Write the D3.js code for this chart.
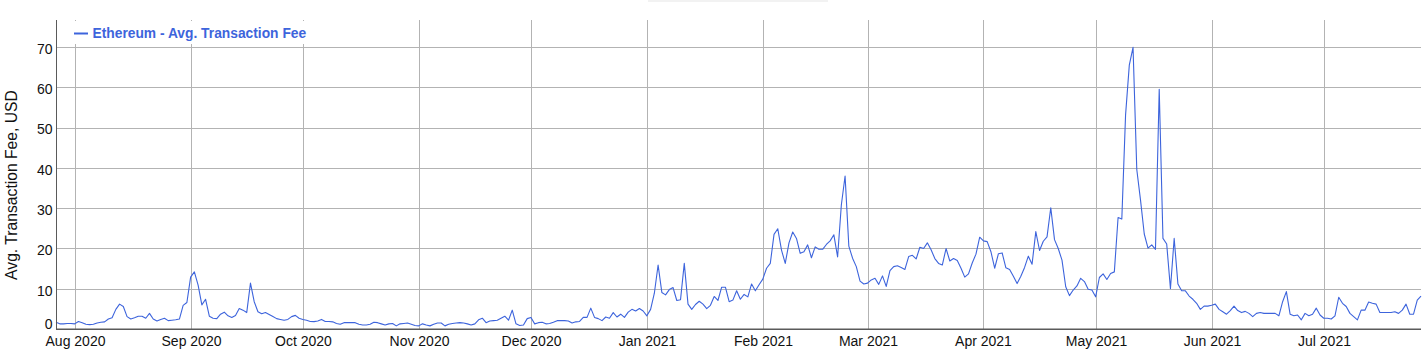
<!DOCTYPE html>
<html><head><meta charset="utf-8">
<script src="https://cdn.jsdelivr.net/npm/d3@7"></script>
<style>
body{margin:0;background:#fff;}
svg{display:block;font-family:"Liberation Sans",Arial,Helvetica,sans-serif;}
</style>
</head><body>
<svg id="chart" width="1423" height="350"></svg>
<script>
const seriesName = "Ethereum - Avg. Transaction Fee";
const yAxisTitle = "Avg. Transaction Fee, USD";
const startDate = "2020-07-27";
const endDate = "2021-07-27";
const yTicks = [0, 10, 20, 30, 40, 50, 60, 70];
const xTicks = ["2020-08-01","2020-09-01","2020-10-01","2020-11-01","2020-12-01","2021-01-01",
                "2021-02-01","2021-03-01","2021-04-01","2021-05-01","2021-06-01","2021-07-01"];
const xTickLabels = ["Aug 2020","Sep 2020","Oct 2020","Nov 2020","Dec 2020","Jan 2021",
                     "Feb 2021","Mar 2021","Apr 2021","May 2021","Jun 2021","Jul 2021"];
// daily average fee, USD, one value per day from startDate
const fees = [
1.8,1.4,1.4,1.5,1.5,1.4,2.0,1.7,1.3,1.2,
1.3,1.6,1.8,1.9,2.6,2.9,5.0,6.3,5.7,3.2,
2.6,2.9,3.3,3.3,2.8,4.0,2.6,2.1,2.5,2.8,
2.2,2.3,2.4,2.6,6.0,6.7,13.0,14.3,11.0,6.1,
7.5,3.3,2.8,2.7,3.8,4.3,3.4,3.0,3.5,5.2,
4.8,4.2,11.5,6.9,4.4,3.9,4.2,3.7,3.2,2.7,
2.5,2.3,2.5,3.2,3.5,2.8,2.5,2.3,2.0,1.95,
2.1,2.5,2.0,2.0,1.9,1.5,1.3,1.7,1.7,1.7,
1.7,1.3,1.1,1.1,1.3,1.8,1.7,1.4,1.1,1.4,
1.5,0.9,1.4,1.5,1.6,1.3,1.0,0.9,1.4,1.1,
0.9,1.3,1.6,1.6,0.9,1.3,1.5,1.6,1.7,1.6,
1.4,1.1,1.4,2.4,2.8,1.7,2.1,2.2,2.3,2.8,
3.3,2.3,4.8,1.4,1.0,1.1,2.7,3.0,1.4,1.7,
1.8,1.4,1.5,1.8,2.2,2.2,2.2,2.1,1.6,1.9,
2.0,3.0,3.0,5.3,3.0,2.7,2.2,3.1,2.8,4.2,
3.1,3.8,3.0,4.3,5.0,4.6,5.2,4.6,3.4,5.0,
9.0,16.0,9.2,8.6,9.9,10.4,7.2,7.4,16.4,6.3,
5.0,6.2,7.0,6.3,5.2,6.0,8.2,7.2,10.5,10.5,
6.9,7.3,9.6,7.5,8.7,8.1,11.3,9.6,11.1,12.5,
15.2,16.4,23.6,25.0,19.7,16.4,21.5,24.2,22.6,18.9,
19.3,21.0,17.8,20.5,19.9,19.9,21.1,22.0,23.5,18.0,
30.9,38.1,20.7,17.7,15.6,12.0,11.3,11.5,12.3,12.7,
11.2,13.3,10.7,14.6,15.6,15.8,15.4,14.9,18.1,18.4,
17.5,20.4,20.1,21.5,19.8,17.6,16.4,16.0,20.1,17.0,
17.6,17.1,15.2,13.0,13.8,16.5,18.7,22.9,22.0,21.8,
19.3,15.2,18.8,19.0,15.3,14.9,13.2,11.4,13.2,15.4,
18.2,16.2,24.3,19.6,21.9,23.0,30.2,22.3,20.1,17.2,
10.6,8.4,9.8,10.8,12.7,11.9,10.0,9.8,8.1,12.9,
13.8,12.4,13.9,14.3,27.8,27.4,53.2,65.6,70.0,39.7,
32.1,23.7,20.2,21.0,19.9,59.6,22.6,21.2,10.1,22.6,
11.3,9.6,9.6,8.3,7.5,6.5,5.0,5.8,5.8,6.0,
6.3,5.0,4.4,3.8,4.7,5.8,4.7,4.2,4.5,4.0,
3.2,4.0,4.2,4.0,4.0,4.0,
4.0,3.4,6.9,9.4,3.8,3.4,3.6,2.4,4.0,3.4,
3.8,5.3,3.6,2.8,2.8,2.6,3.4,8.0,6.5,5.7,
4.0,3.2,2.4,4.8,4.8,6.8,6.5,6.3,4.2,4.2,
4.2,4.2,4.4,4.0,4.8,6.3,3.8,3.8,7.3,8.3
];

const lineColor = "#3d64dc";
const parse = d3.timeParse("%Y-%m-%d");
const t0 = parse(startDate);
const data = fees.map((v, i) => ({date: d3.timeDay.offset(t0, i), value: v}));

const L = 56, R = 1421, T = 20, B = 329.5;
const x = d3.scaleTime().domain([t0, parse(endDate)]).range([L, R]);
const y = d3.scaleLinear().domain([0, 76.8]).range([B, T]);

const svg = d3.select("#chart");

// faint band at top
svg.append("rect").attr("x", 648).attr("y", 0).attr("width", 180).attr("height", 2).attr("fill", "#f2f2f2");

// horizontal grid
svg.append("g").selectAll("line").data(yTicks.filter(d => d > 0)).join("line")
  .attr("x1", L).attr("x2", R)
  .attr("y1", d => Math.floor(y(d)) + 0.5).attr("y2", d => Math.floor(y(d)) + 0.5)
  .attr("stroke", "#b3b3b3").attr("stroke-width", 1);

// vertical grid
svg.append("g").selectAll("line").data(xTicks).join("line")
  .attr("x1", d => Math.round(x(parse(d))) + 0.5).attr("x2", d => Math.round(x(parse(d))) + 0.5)
  .attr("y1", T).attr("y2", B)
  .attr("stroke", "#b3b3b3").attr("stroke-width", 1);

// series line
svg.append("path").datum(data)
  .attr("fill", "none").attr("stroke", lineColor).attr("stroke-width", 1.1)
  .attr("stroke-linejoin", "round")
  .attr("d", d3.line().x(d => x(d.date)).y(d => y(d.value)));

// axes lines
svg.append("line").attr("x1", L + 0.5).attr("x2", L + 0.5).attr("y1", T).attr("y2", 330)
  .attr("stroke", "#5a5a5a").attr("stroke-width", 1);
svg.append("line").attr("x1", L).attr("x2", R).attr("y1", 329.2).attr("y2", 329.2)
  .attr("stroke", "#5a5a5a").attr("stroke-width", 1.6);

// y tick labels
svg.append("g").selectAll("text").data(yTicks).join("text")
  .attr("x", 52.5)
  .attr("y", d => d === 0 ? 329 : y(d) + 6.4)
  .attr("text-anchor", "end").attr("font-size", 14).attr("fill", "#111")
  .text(d => d);

// x tick labels
svg.append("g").selectAll("text").data(xTicks).join("text")
  .attr("x", (d) => Math.round(x(parse(d))) + 0.5)
  .attr("y", 345.5)
  .attr("text-anchor", "middle").attr("font-size", 14).attr("fill", "#111")
  .text((d, i) => xTickLabels[i]);

// y axis title
svg.append("text")
  .attr("transform", "translate(17,185) rotate(-90)")
  .attr("text-anchor", "middle").attr("font-size", 15.7).attr("fill", "#111")
  .text(yAxisTitle);

// legend
svg.append("rect").attr("x", 62).attr("y", 21).attr("width", 252).attr("height", 23).attr("fill", "#fff");
svg.append("line").attr("x1", 74).attr("x2", 88).attr("y1", 33.5).attr("y2", 33.5)
  .attr("stroke", lineColor).attr("stroke-width", 2);
svg.append("text").attr("x", 92.5).attr("y", 37.8)
  .attr("font-size", 13.8).attr("font-weight", "bold").attr("fill", lineColor)
  .text(seriesName);
</script>
</body></html>
